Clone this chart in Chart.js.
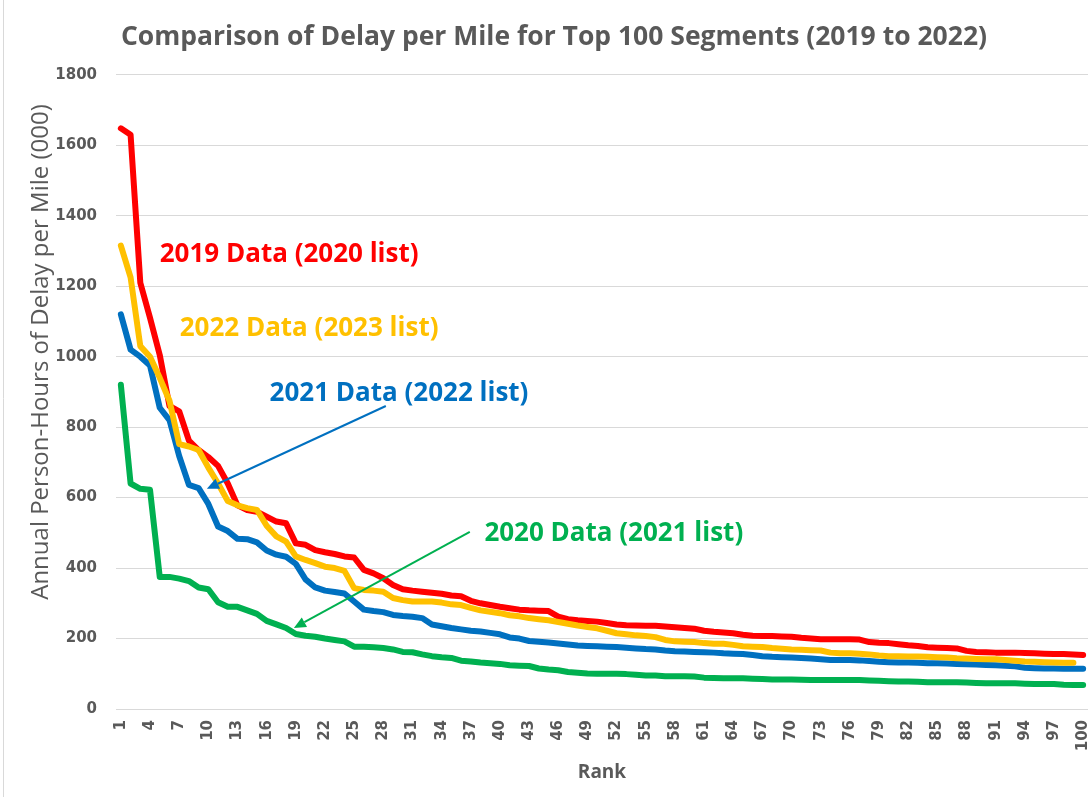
<!DOCTYPE html>
<html>
<head>
<meta charset="utf-8">
<script src="https://cdn.jsdelivr.net/npm/chart.js@4/dist/chart.umd.min.js"></script>
<style>
  html, body { margin: 0; padding: 0; background: #ffffff; }
  #wrap { width: 1090px; height: 797px; position: relative; }
</style>
</head>
<body>
<div id="wrap"><canvas id="c" width="1090" height="797"></canvas></div>
<script>
// ---- categories ----
const ranks = ['1','2','3','4','5','6','7','8','9','10','11','12','13','14','15','16','17','18','19','20',
  '21','22','23','24','25','26','27','28','29','30','31','32','33','34','35','36','37','38','39','40',
  '41','42','43','44','45','46','47','48','49','50','51','52','53','54','55','56','57','58','59','60',
  '61','62','63','64','65','66','67','68','69','70','71','72','73','74','75','76','77','78','79','80',
  '81','82','83','84','85','86','87','88','89','90','91','92','93','94','95','96','97','98','99','100'];

// ---- tick labels shown on the rank axis ----
const shownRankTicks = ['1','4','7','10','13','16','19','22','25','28','31','34','37','40','43','46','49',
  '52','55','58','61','64','67','70','73','76','79','82','85','88','91','94','97','100'];

// ---- series values (annual person-hours of delay per mile, 000) ----
const delay2019 = [1648,1630,1210,1110,1005,860,845,762,735,715,690,640,578,565,560,546,532,527,470,466,
  451,445,440,433,430,395,385,371,352,340,336,333,330,327,322,320,307,300,295,290,
  286,282,280,279,278,262,255,252,250,248,244,240,238,237,236,236,234,232,230,228,
  222,219,217,215,211,208,207,207,206,205,202,200,198,198,198,198,197,190,188,187,
  184,181,179,175,174,173,172,165,162,161,160,160,160,159,158,157,156,156,155,153];

const delay2020 = [920,640,625,622,375,375,370,363,345,340,303,290,290,280,270,250,240,230,213,208,
  205,200,196,192,177,177,175,173,169,162,161,155,150,147,145,137,135,132,130,128,
  124,123,122,115,112,110,105,103,101,100,100,100,99,97,95,95,93,93,93,92,
  89,88,87,87,87,86,85,84,84,84,83,82,82,82,82,82,82,81,80,79,
  78,78,77,76,76,76,76,75,74,73,73,73,73,72,71,71,71,69,68,68];

const delay2021 = [1120,1020,1000,975,855,820,718,636,627,582,518,505,483,482,473,450,438,432,412,368,
  345,336,332,328,305,282,278,275,267,264,262,258,240,235,230,226,222,220,216,212,
  203,200,193,191,189,186,183,180,179,178,177,176,174,172,170,169,166,164,163,162,
  161,160,158,157,156,153,150,148,147,146,145,143,141,139,139,139,138,136,134,133,
  132,132,131,130,130,129,128,127,126,125,124,123,121,117,116,115,115,114,114,114];

const delay2022 = [1315,1225,1030,1000,940,875,752,745,735,685,640,590,578,570,565,520,490,475,433,423,
  414,404,400,392,343,338,336,333,315,309,305,305,305,302,297,295,287,280,276,272,
  266,263,258,255,252,247,242,237,233,229,222,215,212,209,207,204,196,192,191,190,
  187,185,185,182,178,177,176,173,171,169,168,167,166,160,158,158,157,155,152,150,
  150,149,149,148,147,146,144,143,142,141,141,139,137,135,134,133,132,131,131,null];

// ---- y axis tick range ----
const yMin = 0, yMax = 1800, yStep = 200;

// ---- texts ----
const chartTitle = 'Comparison of Delay per Mile for Top 100 Segments (2019 to 2022)';
const yTitle = 'Annual Person-Hours of Delay per Mile (000)';
const xTitle = 'Rank';

// ---- annotation labels & arrows (placed in rank / value units) ----
const noteTexts  = ['2019 Data (2020 list)', '2022 Data (2023 list)', '2021 Data (2022 list)', '2020 Data (2021 list)'];
const noteColors = ['#FF0000', '#FFC000', '#0070C0', '#00B050'];
const noteRanks  = [5.0, 7.05, 16.3, 38.4];
const noteValues = [1269, 1059, 875, 477];

const arrowColors   = ['#0070C0', '#00B050'];
const arrowFromRank = [28.26, 36.9];
const arrowFromVal  = [860, 503];
const arrowToRank   = [9.85, 18.8];
const arrowToVal    = [625, 230];

const GRAY = '#595959';

const notesPlugin = {
  id: 'notes',
  beforeDraw(chart) {
    const ctx = chart.ctx;
    ctx.save();
    ctx.strokeStyle = '#d9d9d9';
    ctx.lineWidth = 1;
    ctx.beginPath();
    ctx.moveTo(3.5, 0);
    ctx.lineTo(3.5, chart.height);
    ctx.stroke();
    ctx.restore();
  },
  afterDatasetsDraw(chart) {
    const ctx = chart.ctx;
    const xs = chart.scales.x, ys = chart.scales.y;
    ctx.save();
    // labels
    ctx.font = 'bold 26px "Open Sans"';
    ctx.textAlign = 'left';
    ctx.textBaseline = 'alphabetic';
    noteTexts.forEach((t, i) => {
      ctx.fillStyle = noteColors[i];
      ctx.fillText(t, xs.getPixelForValue(noteRanks[i] - 1), ys.getPixelForValue(noteValues[i]));
    });
    // arrows
    arrowColors.forEach((c, i) => {
      const x1 = xs.getPixelForValue(arrowFromRank[i] - 1), y1 = ys.getPixelForValue(arrowFromVal[i]);
      const x2 = xs.getPixelForValue(arrowToRank[i] - 1),   y2 = ys.getPixelForValue(arrowToVal[i]);
      const ang = Math.atan2(y2 - y1, x2 - x1);
      const headLen = 12, headW = 5.5;
      const bx = x2 - headLen * Math.cos(ang), by = y2 - headLen * Math.sin(ang);
      ctx.strokeStyle = c; ctx.fillStyle = c; ctx.lineWidth = 2;
      ctx.beginPath(); ctx.moveTo(x1, y1); ctx.lineTo(bx, by); ctx.stroke();
      ctx.beginPath();
      ctx.moveTo(x2, y2);
      ctx.lineTo(bx + headW * Math.sin(ang), by - headW * Math.cos(ang));
      ctx.lineTo(bx - headW * Math.sin(ang), by + headW * Math.cos(ang));
      ctx.closePath(); ctx.fill();
    });
    // y axis title
    ctx.translate(41, 352);
    ctx.rotate(-Math.PI / 2);
    ctx.font = '500 24px "Open Sans"';
    ctx.fillStyle = GRAY;
    ctx.textAlign = 'center';
    ctx.textBaseline = 'middle';
    ctx.fillText(yTitle, 0, 0);
    ctx.restore();
  }
};

const lineStyle = { borderWidth: 6, pointRadius: 0, tension: 0, borderCapStyle: 'round', borderJoinStyle: 'round', fill: false };

new Chart(document.getElementById('c'), {
  type: 'line',
  data: {
    labels: ranks,
    datasets: [
      Object.assign({ label: '2022 Data (2023 list)', data: delay2022, borderColor: '#FFC000', backgroundColor: '#FFC000' }, lineStyle),
      Object.assign({ label: '2019 Data (2020 list)', data: delay2019, borderColor: '#FF0000', backgroundColor: '#FF0000' }, lineStyle),
      Object.assign({ label: '2021 Data (2022 list)', data: delay2021, borderColor: '#0070C0', backgroundColor: '#0070C0' }, lineStyle),
      Object.assign({ label: '2020 Data (2021 list)', data: delay2020, borderColor: '#00B050', backgroundColor: '#00B050' }, lineStyle)
    ]
  },
  options: {
    responsive: false,
    animation: false,
    devicePixelRatio: 1,
    layout: { padding: { left: 20, right: 2, top: 0, bottom: 0 } },
    plugins: {
      legend: { display: false },
      tooltip: { enabled: false },
      title: {
        display: true,
        text: chartTitle,
        color: GRAY,
        font: { family: '"Open Sans"', size: 26.5, weight: 'bold' },
        padding: { top: 22, bottom: 21 }
      }
    },
    scales: {
      x: {
        offset: true,
        grid: { display: false, drawTicks: false },
        border: { display: false },
        ticks: {
          autoSkip: false, maxRotation: 90, minRotation: 90, padding: 11,
          color: GRAY,
          font: { family: '"DejaVu Sans"', size: 15, weight: 'bold' },
          callback(v) { const l = this.getLabelForValue(v); return shownRankTicks.includes(l) ? l : ''; }
        },
        title: {
          display: true, text: xTitle, color: GRAY,
          font: { family: '"Open Sans"', size: 19, weight: 'bold' },
          padding: { top: 0, bottom: 13 }
        },
        afterFit(s) { s.height = 88; s.paddingLeft = 0; s.paddingRight = 0; }
      },
      y: {
        min: yMin, max: yMax,
        grid: { color: '#d9d9d9', lineWidth: 1, drawTicks: false },
        border: { display: false },
        ticks: {
          stepSize: yStep, padding: 19, color: GRAY,
          font: { family: '"DejaVu Sans"', size: 15, weight: 'bold' },
          callback(v) { return String(v); }
        },
        afterFit(s) { s.width = 96; s.paddingTop = 0; s.paddingBottom = 0; }
      }
    }
  },
  plugins: [notesPlugin]
});
</script>
</body>
</html>
